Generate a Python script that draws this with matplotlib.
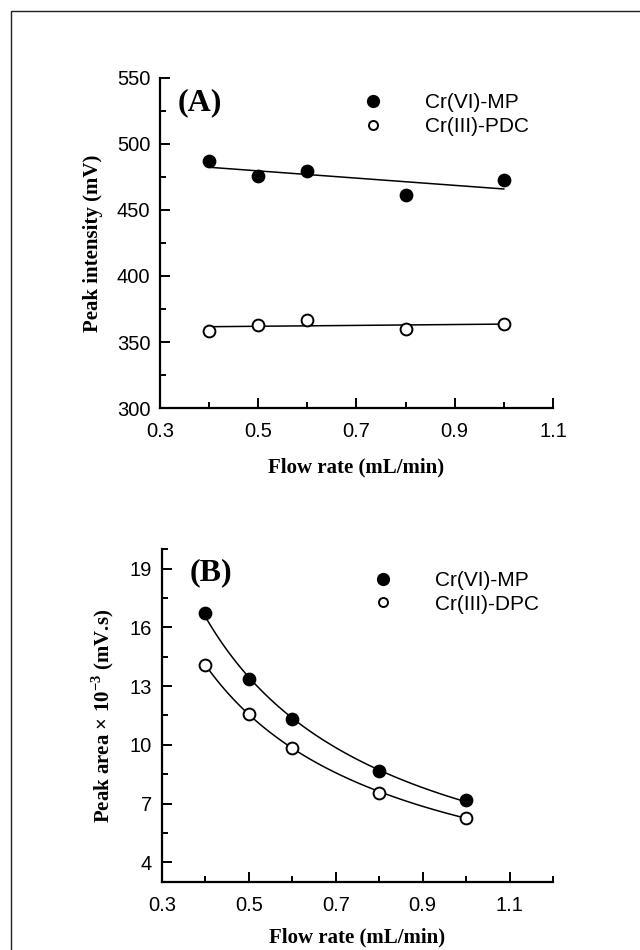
import numpy as np
import matplotlib
matplotlib.use("Agg")
from matplotlib import pyplot as plt
from matplotlib.lines import Line2D
from matplotlib.patches import Rectangle

plt.rcParams['mathtext.fontset'] = 'custom'
plt.rcParams['mathtext.rm'] = 'Liberation Serif:bold'

# flow rate, mL/min
flow = [0.4, 0.5, 0.6, 0.8, 1.0]

# (A) peak intensity, mV
intensity_mp = [487, 476, 479.5, 461, 472.5]
intensity_pdc = [358.6, 363, 367, 359.6, 364]

# (B) peak area x 10^-3, mV.s
area_mp = [16.73, 13.34, 11.3, 8.66, 7.16]
area_dpc = [14.06, 11.6, 9.84, 7.56, 6.28]

TICK_FONT = 'Liberation Sans'
LABEL_FONT = 'Liberation Serif'


def style_axis(ax, xlim, ylim, xmajor, xminor, ymajor, yminor, xlabelpad):
    ax.set_xlim(xlim)
    ax.set_ylim(ylim)
    for s in ['top', 'right']:
        ax.spines[s].set_visible(False)
    for s in ['left', 'bottom']:
        ax.spines[s].set_linewidth(1.6)
    ax.set_xticks(xmajor)
    ax.set_xticks(xminor, minor=True)
    ax.set_yticks(ymajor)
    ax.set_yticks(yminor, minor=True)
    ax.tick_params(which='major', direction='in', length=7, width=1.4)
    ax.tick_params(which='minor', direction='in', length=4, width=1.4)
    ax.tick_params(axis='x', which='both', pad=10)
    ax.tick_params(axis='y', which='both', pad=7)
    for t in ax.get_xticklabels() + ax.get_yticklabels():
        t.set_fontfamily(TICK_FONT)
        t.set_fontsize(14.5)
    ax.set_xlabel('Flow rate (mL/min)', fontfamily=LABEL_FONT,
                  fontweight='bold', fontsize=15, labelpad=xlabelpad)


def legend(ax, labels, anchor):
    handles = [Line2D([], [], ls='none', marker='o', ms=8.5, mfc='black', mec='black'),
               Line2D([], [], ls='none', marker='o', ms=6.5, mfc='white', mec='black', mew=1.4)]
    leg = ax.legend(handles, labels, loc='upper left', bbox_to_anchor=anchor,
                    frameon=False, handletextpad=1.5, labelspacing=0.22,
                    prop={'family': TICK_FONT, 'size': 15})
    return leg


fig = plt.figure(figsize=(6.4, 9.5), dpi=100)
fig.patches.append(Rectangle((11 / 640, -0.1), 1.2, 1 - 11 / 950 + 0.1,
                             transform=fig.transFigure, fill=False,
                             lw=1.0, ec='#222222'))

# ---- panel A
ax1 = fig.add_axes([0.25, 0.5705, 0.614, 0.3475])
x = np.array(flow)
for vals, filled in [(intensity_mp, True), (intensity_pdc, False)]:
    p = np.polyfit(x, vals, 1)
    ax1.plot([x[0], x[-1]], np.polyval(p, [x[0], x[-1]]), color='black', lw=1.1)
    ax1.plot(x, vals, 'o', ms=8.5, mfc='black' if filled else 'white',
             mec='black', mew=1.4)
style_axis(ax1, (0.3, 1.1), (300, 550), [0.3, 0.5, 0.7, 0.9, 1.1],
           [0.4, 0.6, 0.8, 1.0], np.arange(300, 551, 50), np.arange(325, 550, 50), 12)
ax1.set_ylabel('Peak intensity (mV)', fontfamily=LABEL_FONT,
               fontweight='bold', fontsize=15, labelpad=10)
ax1.text(0.046, 0.924, '(A)', transform=ax1.transAxes, fontfamily=LABEL_FONT,
         fontweight='bold', fontsize=23, va='center')
legend(ax1, ['Cr(VI)-MP', 'Cr(III)-PDC'], (0.442, 1.01))

# ---- panel B
ax2 = fig.add_axes([0.253, 0.0716, 0.611, 0.3505])
xs = np.linspace(0.4, 1.0, 100)
for vals, filled in [(area_mp, True), (area_dpc, False)]:
    p = np.polyfit(np.log(x), np.log(vals), 1)
    ax2.plot(xs, np.exp(np.polyval(p, np.log(xs))), color='black', lw=1.1)
    ax2.plot(x, vals, 'o', ms=8.5, mfc='black' if filled else 'white',
             mec='black', mew=1.4)
style_axis(ax2, (0.3, 1.2), (3, 20), [0.3, 0.5, 0.7, 0.9, 1.1],
           [0.4, 0.6, 0.8, 1.0, 1.2], np.arange(4, 20, 3), [5.5, 8.5, 11.5, 14.5, 17.5, 20], 9)
ax2.set_ylabel('Peak area \u00d7 10$^{\\mathregular{-3}}$ (mV.s)', fontfamily=LABEL_FONT,
               fontweight='bold', fontsize=15, labelpad=10)
ax2.text(0.072, 0.93, '(B)', transform=ax2.transAxes, fontfamily=LABEL_FONT,
         fontweight='bold', fontsize=23, va='center')
legend(ax2, ['Cr(VI)-MP', 'Cr(III)-DPC'], (0.465, 0.99))

fig.savefig('out.png', dpi=100)
